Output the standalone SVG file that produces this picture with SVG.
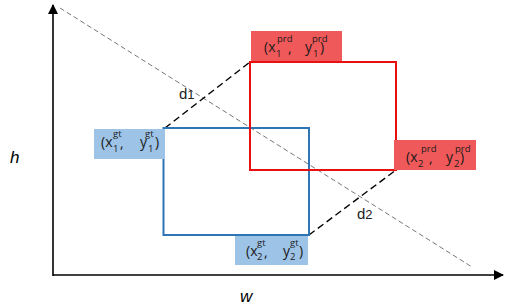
<svg xmlns="http://www.w3.org/2000/svg" width="505" height="308" viewBox="0 0 505 308">
<defs>
<marker id="ah" markerWidth="10" markerHeight="10" refX="9" refY="5" orient="auto" markerUnits="userSpaceOnUse">
<path d="M0,0 L10,5 L0,10 Z" fill="#000"/>
</marker>
<style>
.t{font-family:"Open Sans","Liberation Sans",sans-serif;font-size:14px;fill:#1a1a1a}
.s{font-size:9.5px}
.ax{stroke:#000;stroke-width:1.6;fill:none}
.diag{stroke:#777;stroke-width:1;stroke-dasharray:5,3;fill:none}
.dash{stroke:#000;stroke-width:1.4;stroke-dasharray:7,4;fill:none}
.bl{fill:#9dc3e6}
.rd{fill:#f0595a}
.lab{font-family:"Liberation Sans",Arial,sans-serif;font-size:15px;fill:#222}
.it{font-family:"Liberation Sans",Arial,sans-serif;font-size:17px;font-style:italic;fill:#000}
</style>
</defs>
<rect width="505" height="308" fill="#fff"/>
<g id="connectors">
<line class="ax" x1="53" y1="276" x2="53" y2="5" marker-end="url(#ah)"/>
<line class="ax" x1="53" y1="275" x2="503" y2="275" marker-end="url(#ah)"/>
<line class="diag" x1="60" y1="8" x2="472" y2="267"/>
<line class="dash" x1="165" y1="128" x2="250" y2="62"/>
<line class="dash" x1="309" y1="235" x2="396" y2="170"/>
</g>
<g id="gt-box"><rect x="163.5" y="128" width="145.5" height="107" fill="none" stroke="#2e75b6" stroke-width="2"/></g>
<g id="prd-box"><rect x="250" y="62" width="146" height="108" fill="none" stroke="#e81010" stroke-width="2"/></g>
<g id="label-gt1">
<rect class="bl" x="94" y="129" width="71" height="30"/>
<text class="t"><tspan x="101" y="147">(x</tspan><tspan class="s" x="113" y="152">1</tspan><tspan class="s" x="113" y="137">gt</tspan><tspan x="120" y="148">,</tspan><tspan x="140" y="147">y</tspan><tspan class="s" x="148" y="152">1</tspan><tspan class="s" x="145" y="137">gt</tspan><tspan x="155" y="147">)</tspan></text>
</g>
<g id="label-gt2">
<rect class="bl" x="235" y="236" width="73" height="29"/>
<text class="t"><tspan x="246" y="256">(x</tspan><tspan class="s" x="257" y="260">2</tspan><tspan class="s" x="257" y="246">gt</tspan><tspan x="264" y="257">,</tspan><tspan x="283" y="256">y</tspan><tspan class="s" x="290" y="260">2</tspan><tspan class="s" x="290" y="246">gt</tspan><tspan x="299" y="256">)</tspan></text>
</g>
<g id="label-prd1">
<rect class="rd" x="251" y="31" width="91" height="30"/>
<text class="t"><tspan x="264" y="52">(x</tspan><tspan class="s" x="276" y="57">1</tspan><tspan class="s" x="277" y="42">prd</tspan><tspan x="288" y="53">,</tspan><tspan x="305" y="52">y</tspan><tspan class="s" x="313" y="57">1</tspan><tspan class="s" x="312" y="42">prd</tspan><tspan x="320" y="52">)</tspan></text>
</g>
<g id="label-prd2">
<rect class="rd" x="394" y="140" width="82" height="30"/>
<text class="t"><tspan x="406" y="162">(x</tspan><tspan class="s" x="418" y="167">2</tspan><tspan class="s" x="421" y="152">prd</tspan><tspan x="429" y="163">,</tspan><tspan x="446" y="162">y</tspan><tspan class="s" x="454" y="167">2</tspan><tspan class="s" x="455" y="152">prd</tspan><tspan x="460" y="162">)</tspan></text>
</g>
<g id="d1"><text class="lab" x="179" y="99">d<tspan font-size="13">1</tspan></text></g>
<g id="d2"><text class="lab" x="357" y="219">d<tspan font-size="13">2</tspan></text></g>
<g id="h"><text class="it" x="10" y="163">h</text></g>
<g id="w"><text class="it" x="240" y="302">w</text></g>
</svg>
